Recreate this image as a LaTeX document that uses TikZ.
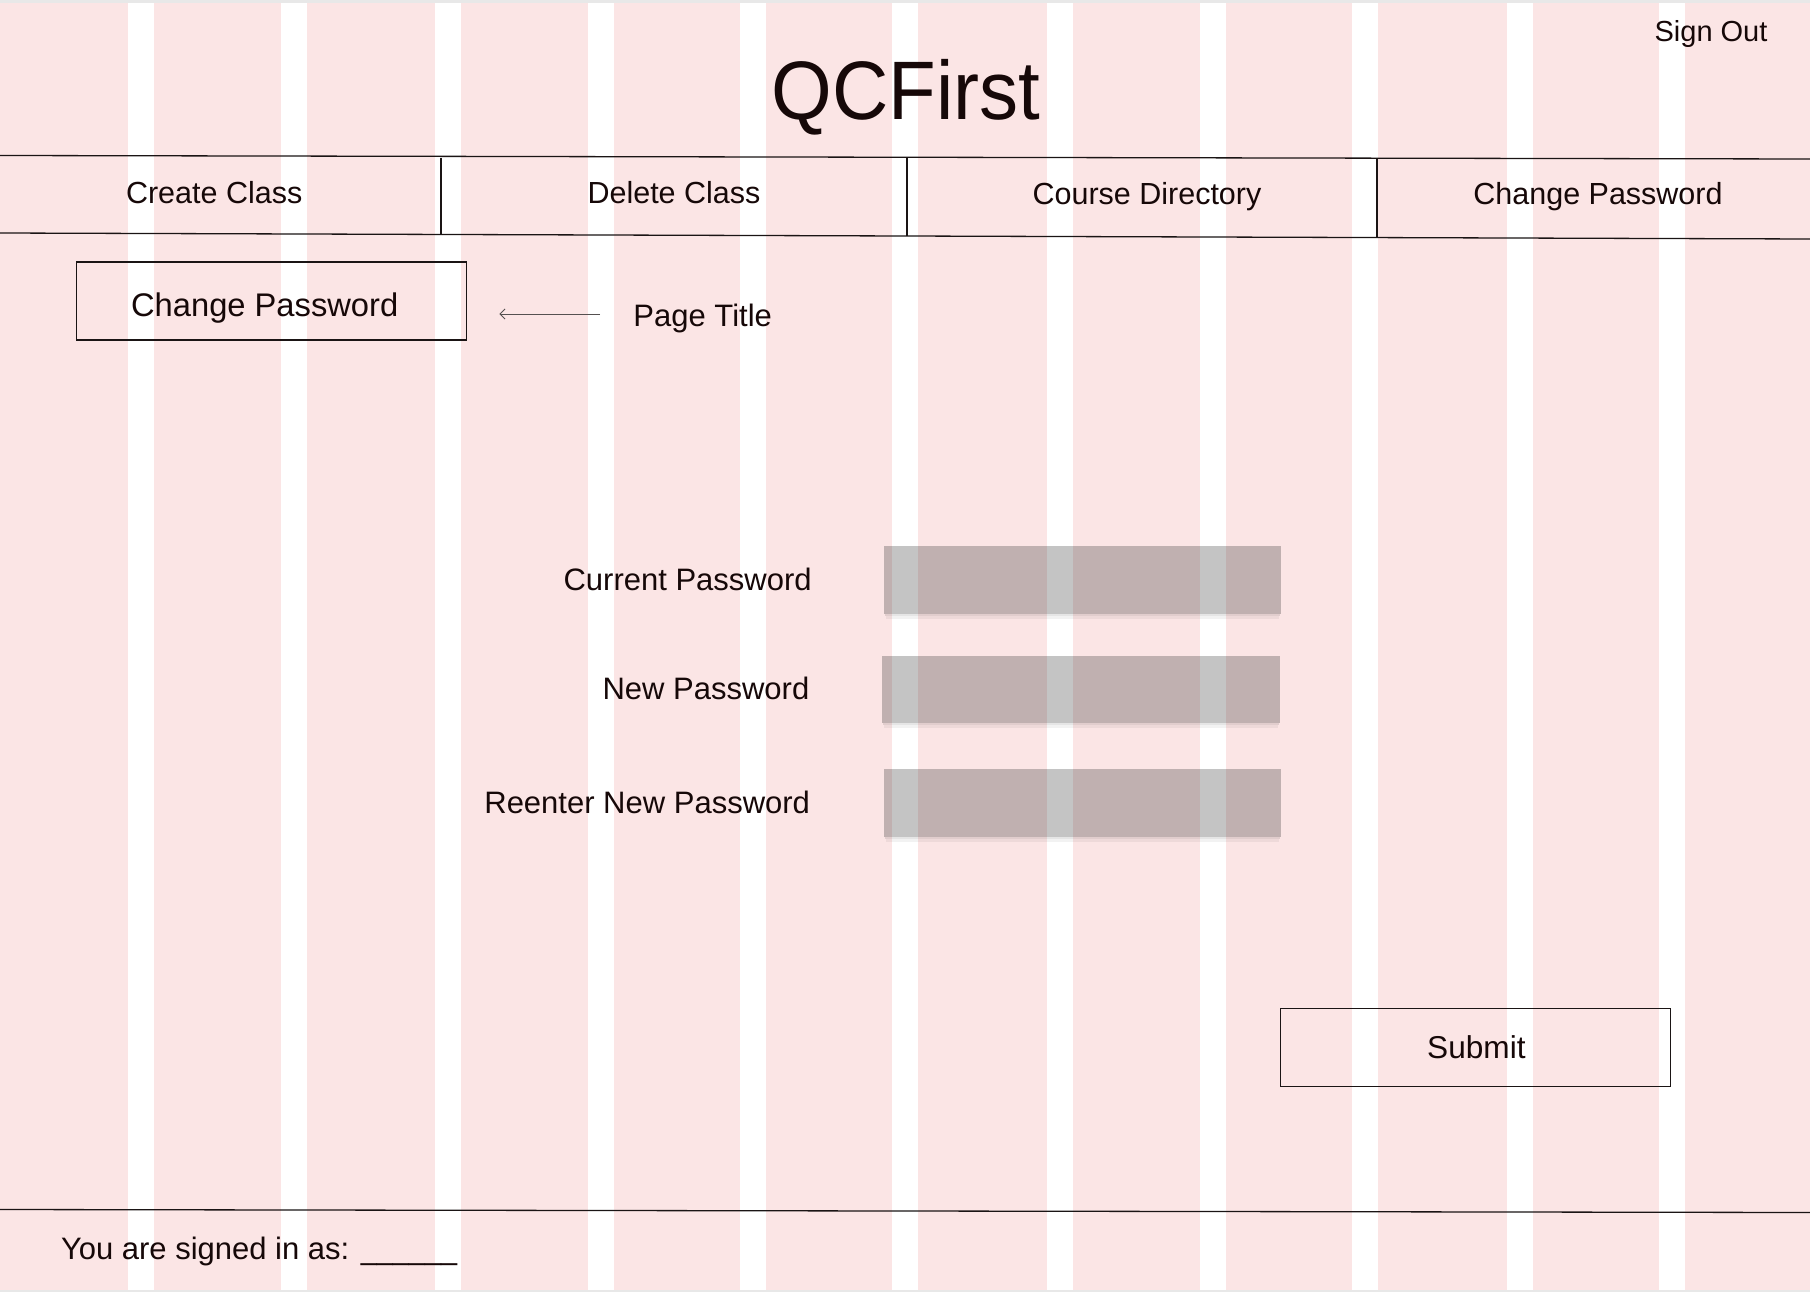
\documentclass[tikz,border=0pt]{standalone}
\usepackage{fontspec}
\setmainfont{Liberation Sans}
\usetikzlibrary{arrows.meta}
\definecolor{pinkbg}{RGB}{251,229,229}
\definecolor{ink}{RGB}{22,8,8}
\definecolor{edgegray}{RGB}{232,232,232}
\definecolor{linecol}{RGB}{26,20,20}
\definecolor{arrowcol}{RGB}{85,80,80}
\tikzset{
  txt/.style={inner sep=0pt, outer sep=0pt, text=ink, anchor=base},
  navfont/.style={font=\fontsize{30.5}{36}\selectfont},
  bodyfont/.style={font=\fontsize{31}{37}\selectfont},
  rule/.style={draw=linecol, line width=1.3pt},
  boxstyle/.style={draw=linecol, line width=1.3pt, inner sep=0pt, outer sep=0pt, fill=none},
  field/.style={fill=black, fill opacity=0.23, inner sep=0pt, outer sep=0pt, minimum height=68pt},
  fshadowA/.style={fill=black, fill opacity=0.10},
  fshadowB/.style={fill=black, fill opacity=0.05},
  arr/.style={draw=arrowcol, line width=1pt, -{Straight Barb[length=5pt,width=10pt]}},
}
\begin{document}
\begin{tikzpicture}[x=1pt,y=-1pt]
\useasboundingbox (0,0) rectangle (1810,1292);
% background
\fill[pinkbg] (0,0) rectangle (1810,1292);
\foreach \s in {128,281,435,588,740,892,1047,1200,1352,1507,1659}
  \fill[white] (\s,0) rectangle (\s+25.5,1292);
\fill[edgegray] (0,0) rectangle (1810,2.7);
\fill[edgegray] (0,1290) rectangle (1810,1292);

% title and sign out
\node[txt, font=\fontsize{83}{96}\selectfont] (title) at (906,119.3) {\scalebox{0.94}[1]{QCFirst}};
\node[txt, font=\fontsize{29}{35}\selectfont] (signout) at (1711,41.3) {Sign Out};

% nav bar
\draw[rule] (0,155.5) -- (1810,159);
\draw[rule] (0,233) -- (1810,239);
\draw[rule] (441,158) -- (441,234);
\draw[rule] (907,158.5) -- (907,236);
\draw[rule] (1377,159) -- (1377,238);
\node[txt, navfont] (nav1) at (214.2,204) {Create Class};
\node[txt, navfont] (nav2) at (674,204) {Delete Class};
\node[txt, navfont] (nav3) at (1147,205) {Course Directory};
\node[txt, navfont] (nav4) at (1598,205) {Change Password};

% page title box
\node[boxstyle, minimum width=390pt, minimum height=78pt] (pbox) at (271.3,301) {};
\node[txt, font=\fontsize{32.7}{39}\selectfont] (pboxtext) at (264.7,316.7) {Change Password};
\node[txt, bodyfont] (ptitle) at (702.7,326) {Page Title};
\coordinate (arrS) at (600,314);
\coordinate (arrE) at (499.3,314);
\draw[arr] (arrS) -- (arrE);

% fields with shadows below
\foreach \xa/\yb/\xb in {884/614/1281, 882/723/1280, 884/837/1281}{
  \fill[fshadowA] (\xa+1,\yb) rectangle (\xb-1,\yb+2.2);
  \fill[fshadowB] (\xa+2,\yb+2.2) rectangle (\xb-2,\yb+4.5);
}
\node[field, minimum width=397pt] (f1) at (1082.5,580) {};
\node[field, minimum width=398pt, minimum height=67pt] (f2) at (1081,689.5) {};
\node[field, minimum width=397pt] (f3) at (1082.5,803) {};

\node[txt, bodyfont, anchor=base east] (l1) at (811.7,590.7) {Current Password};
\node[txt, bodyfont, anchor=base east] (l2) at (809.3,699.3) {New Password};
\node[txt, bodyfont, anchor=base east] (l3) at (810,813.3) {Reenter New Password};

% submit
\node[boxstyle, minimum width=390pt, minimum height=78pt] (submit) at (1475.7,1047.3) {};
\node[txt, font=\fontsize{31.6}{38}\selectfont] (submittext) at (1476.4,1058.3) {Submit};

% footer
\draw[rule] (0,1209.5) -- (1810,1212.5);
\node[txt, bodyfont, anchor=base west] (footer) at (61,1259) {You are signed in as: \scalebox{0.93}[1]{\_\_\_\_\_\_}};
\end{tikzpicture}
\end{document}
